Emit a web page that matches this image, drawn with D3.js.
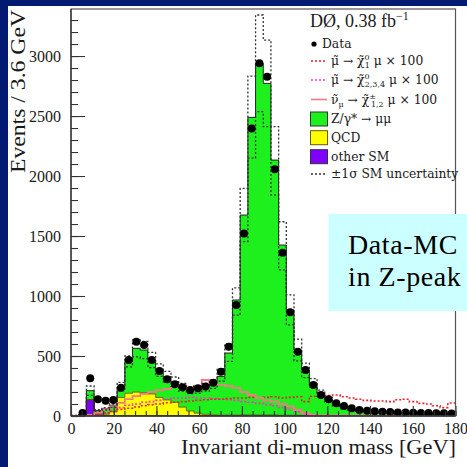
<!DOCTYPE html>
<html><head><meta charset="utf-8">
<script src="https://cdn.jsdelivr.net/npm/d3@7"></script>
<style>
html,body{margin:0;padding:0;background:#021a72;overflow:hidden}
svg{display:block}
</style>
</head><body>
<svg id="chart" width="467" height="467"></svg>
<script>
// Di-muon invariant mass, 3.6 GeV bins from 0 to 180 GeV
const binWidth = 3.6;
const massDomain = [0, 180];
const xTicks = [0, 20, 40, 60, 80, 100, 120, 140, 160, 180];
const yTicks = [0, 500, 1000, 1500, 2000, 2500, 3000];

const dataCounts = [0,25,314,139,128,133,236,467,619,592, 467,375,306,264,239,217,232,245,278,369,
  578,925,1522,2397,2940,2828,2056,1361,865,536, 383,258,175,139,106,83,64,50,44,39,
  36,33,30,30,27,25,24,22,22,20];

const otherSM = [2,5,135,10,5,4,4,4,4,4, 4,4,4,4,4,4,4,4,4,4,
  5,5,6,6,6,6,6,5,5,5, 4,4,4,3,3,3,3,3,3,3, 3,3,3,3,2,2,2,2,2,2];
const qcd = [0,0,0,5,10,30,150,185,195,190, 180,150,130,110,70,38,20,10,5,3,
  2,1,1,0,0,0,0,0,0,0, 0,0,0,0,0,0,0,0,0,0, 0,0,0,0,0,0,0,0,0,0];
const zmumu = [2,5,76,30,45,56,90,266,365,356, 283,229,194,172,166,173,196,226,256,323,
  518,961,1668,2483,2933,2766,2127,1420,878,545, 379,271,186,132,92,67,52,42,35,30,
  27,24,22,20,20,18,17,16,15,14];

// +/- 1 sigma envelope of the SM prediction
const smUp = [5,12,250,52,70,100,280,500,635,622, 530,435,372,325,272,244,250,272,300,395,
  600,1067,1897,2833,3342,3133,2411,1619,1010,640, 440,312,216,153,108,80,62,51,43,37,
  34,31,28,26,25,23,22,20,19,18];
const smDown = [3,8,172,38,50,72,210,410,493,478, 404,331,284,247,208,186,190,208,230,290,
  455,840,1453,2150,2536,2411,1842,1217,760,460, 320,238,164,117,82,60,48,39,33,29,
  26,23,22,20,19,17,16,16,15,14];

// signal expectations, scaled by 100
const smuonChi1 = [0,0,5,15,25,40,55,65,75,85, 95,100,110,115,120,125,130,135,140,140,
  145,150,150,155,150,155,160,150,155,160, 120,165,160,170,175,160,150,140,130,125,
  125,120,135,140,120,105,100,85,70,108];
const smuonChi234 = [0,0,5,20,30,50,70,90,100,115, 120,130,140,150,150,155,150,150,145,140,
  135,130,120,115,105,95,85,70,55,35, 15,5,0,0,0,0,0,0,0,0, 0,0,0,0,0,0,0,0,0,0];
const sneutrinoChi = [3,3,10,30,55,80,110,140,165,185, 200,215,225,240,255,220,250,300,280,260,
  250,235,200,175,150,130,120,100,80,50, 25,10,4,4,4,4,4,4,4,4, 4,4,4,4,4,4,4,4,4,4];

const svg = d3.select("#chart");
const W = 467, H = 467;

// slide panel
svg.append("rect").attr("x", 8).attr("y", 6).attr("width", W - 8).attr("height", H - 6).attr("fill", "#ffffff");

const x = d3.scaleLinear().domain(massDomain).range([71, 455.5]);
const y = d3.scaleLinear().domain([0, 3392]).range([416, 9]);

svg.append("defs").append("clipPath").attr("id", "plotClip")
  .append("rect").attr("x", 71).attr("y", 9).attr("width", 384.5).attr("height", 407);

const plot = svg.append("g").attr("clip-path", "url(#plotClip)");

// step helpers
const steps = vals => vals.map((v, i) => [i * binWidth, v]).concat([[massDomain[1], vals[vals.length - 1]]]);
const stepLine = d3.line().x(d => x(d[0])).y(d => y(d[1])).curve(d3.curveStepAfter);

// stacked SM backgrounds
const rows = dataCounts.map((_, i) => ({ other: otherSM[i], qcd: qcd[i], z: zmumu[i] }));
const stack = d3.stack().keys(["other", "qcd", "z"])(rows);
const fills = { other: "#8000ff", qcd: "#ffff00", z: "#1ef01e" };
const outlines = { other: "#222", qcd: "#6b5a00", z: "#111" };
const stepArea = d3.area().x(d => x(d.m)).y0(d => y(d.lo)).y1(d => y(d.hi)).curve(d3.curveStepAfter);

stack.slice().reverse().forEach(layer => {
  const pts = layer.map((d, i) => ({ m: i * binWidth, lo: d[0], hi: d[1] }));
  pts.push({ m: massDomain[1], lo: layer[layer.length - 1][0], hi: layer[layer.length - 1][1] });
  plot.append("path").attr("d", stepArea(pts)).attr("fill", fills[layer.key]);
});
stack.forEach(layer => {
  const tops = layer.map(d => d[1]);
  plot.append("path").attr("d", stepLine(steps(tops)))
    .attr("fill", "none").attr("stroke", outlines[layer.key]).attr("stroke-width", 0.9);
});

// signals
plot.append("path").attr("d", stepLine(steps(smuonChi234)))
  .attr("fill", "none").attr("stroke", "#ff30d0").attr("stroke-width", 1.6).attr("stroke-dasharray", "2,2");
plot.append("path").attr("d", stepLine(steps(smuonChi1)))
  .attr("fill", "none").attr("stroke", "#e8202a").attr("stroke-width", 1.6).attr("stroke-dasharray", "2,2");
plot.append("path").attr("d", stepLine(steps(sneutrinoChi)))
  .attr("fill", "none").attr("stroke", "#f27a86").attr("stroke-width", 1.8);

// SM uncertainty envelope
[smUp, smDown].forEach(arr => {
  plot.append("path").attr("d", stepLine(steps(arr)))
    .attr("fill", "none").attr("stroke", "#333").attr("stroke-width", 1.3).attr("stroke-dasharray", "2,2");
});

// data points
plot.selectAll("circle.data").data(dataCounts.map((v, i) => ({ m: (i + 0.5) * binWidth, v })).filter(d => d.v > 0))
  .join("circle").attr("class", "data")
  .attr("cx", d => x(d.m)).attr("cy", d => y(d.v)).attr("r", 4).attr("fill", "#000");

// axes
const axisFont = "'Liberation Serif', 'Times New Roman', serif";
const gy = svg.append("g").attr("transform", "translate(71,0)");
gy.call(d3.axisLeft(y).tickValues(d3.range(0, 3392, 100)).tickSize(-7).tickSizeOuter(0).tickFormat(""));
const gy2 = svg.append("g").attr("transform", "translate(71,0)");
gy2.call(d3.axisLeft(y).tickValues(yTicks).tickSize(-14).tickSizeOuter(0).tickPadding(10).tickFormat(d3.format("d")));
gy2.selectAll("text").attr("font-family", axisFont).attr("font-size", 16).attr("fill", "#1a1a1a");
[gy, gy2].forEach(g => { g.select(".domain").remove(); g.selectAll(".tick line").attr("stroke", "#333").attr("stroke-width", 1.1); });

const gx = svg.append("g").attr("transform", "translate(0,416)");
gx.call(d3.axisBottom(x).tickValues(d3.range(0, 181, 5)).tickSize(-5).tickSizeOuter(0).tickFormat(""));
const gx2 = svg.append("g").attr("transform", "translate(0,416)");
gx2.call(d3.axisBottom(x).tickValues(xTicks).tickSize(-10).tickSizeOuter(0).tickPadding(7).tickFormat(d3.format("d")));
gx2.selectAll("text").attr("font-family", axisFont).attr("font-size", 16).attr("fill", "#1a1a1a");
[gx, gx2].forEach(g => { g.select(".domain").remove(); g.selectAll(".tick line").attr("stroke", "#333").attr("stroke-width", 1.1); });

// frame
svg.append("rect").attr("x", 71).attr("y", 9).attr("width", 384.5).attr("height", 407)
  .attr("fill", "none").attr("stroke", "#555").attr("stroke-width", 1.2);
svg.append("line").attr("x1", 71).attr("x2", 71).attr("y1", 9).attr("y2", 416).attr("stroke", "#333").attr("stroke-width", 1.3);
svg.append("line").attr("x1", 71).attr("x2", 455.5).attr("y1", 416).attr("y2", 416).attr("stroke", "#333").attr("stroke-width", 1.3);

// axis titles
svg.append("text").attr("transform", "translate(25,91.5) rotate(-90)")
  .attr("text-anchor", "middle").attr("font-family", axisFont).attr("font-size", 20).attr("fill", "#1a1a1a")
  .attr("textLength", 163).attr("lengthAdjust", "spacingAndGlyphs")
  .text("Events / 3.6 GeV");
svg.append("text").attr("x", 181).attr("y", 454)
  .attr("font-family", axisFont).attr("font-size", 20).attr("fill", "#1a1a1a")
  .attr("textLength", 275).attr("lengthAdjust", "spacingAndGlyphs")
  .text("Invariant di-muon mass [GeV]");

// experiment label
const title = svg.append("text").attr("x", 310).attr("y", 27)
  .attr("font-family", axisFont).attr("font-size", 18).attr("fill", "#1a1a1a");
title.append("tspan").text("DØ, 0.38 fb");
title.append("tspan").attr("dy", -7).attr("font-size", 12).text("−1");

// legend
const lf = "'DejaVu Serif', serif";
const leg = svg.append("g").attr("font-family", lf).attr("font-size", 12.3).attr("fill", "#1a1a1a");
leg.append("circle").attr("cx", 314).attr("cy", 44).attr("r", 2.6).attr("fill", "#000");
leg.append("text").attr("x", 322).attr("y", 48).text("Data");

const lineKeys = [
  { yy: 61, stroke: "#e8202a", dash: "2,2", w: 1.6 },
  { yy: 80, stroke: "#ff30d0", dash: "2,2", w: 1.6 },
  { yy: 99.5, stroke: "#f27a86", dash: null, w: 1.6 }
];
lineKeys.forEach(k => {
  leg.append("line").attr("x1", 311).attr("x2", 327).attr("y1", k.yy).attr("y2", k.yy)
    .attr("stroke", k.stroke).attr("stroke-width", k.w).attr("stroke-dasharray", k.dash);
});

// neutralino / chargino labels with stacked super- and subscripts
function sigLabel(yy, head, sup, sub, tail) {
  const t = leg.append("text").attr("x", 331).attr("y", yy + 4);
  head.forEach(part => {
    const s = t.append("tspan").text(part.text);
    if (part.sub) s.attr("font-size", 8).attr("dy", 3);
    if (part.back) s.attr("dy", -3);
  });
  t.append("tspan").attr("font-size", 8).attr("dy", -5).text(sup);
  t.append("tspan").attr("font-size", 8).attr("dx", -sup.length * 5).attr("dy", 8).text(sub);
  t.append("tspan").attr("dy", -3).text(tail);
}
sigLabel(61, [{ text: "μ̃ → χ̃" }], "0", "1", " μ × 100");
sigLabel(80, [{ text: "μ̃ → χ̃" }], "0", "2,3,4", " μ × 100");
sigLabel(99.5, [{ text: "ν̃" }, { text: "μ", sub: true }, { text: " → χ̃", back: true }], "±", "1,2", " μ × 100");

const boxKeys = [
  { yy: 119, fill: "#1ef01e", stroke: "#333", label: "Z/γ* → μμ" },
  { yy: 137.7, fill: "#ffff00", stroke: "#6b5a00", label: "QCD" },
  { yy: 156.7, fill: "#8000ff", stroke: "#333", label: "other SM" }
];
boxKeys.forEach(k => {
  leg.append("rect").attr("x", 310.5).attr("y", k.yy - 7).attr("width", 17).attr("height", 14)
    .attr("fill", k.fill).attr("stroke", k.stroke).attr("stroke-width", 1);
  leg.append("text").attr("x", 331).attr("y", k.yy + 4).text(k.label);
});
leg.append("line").attr("x1", 311).attr("x2", 327).attr("y1", 174).attr("y2", 174)
  .attr("stroke", "#333").attr("stroke-width", 1.3).attr("stroke-dasharray", "2,2");
leg.append("text").attr("x", 331).attr("y", 178).text("±1σ SM uncertainty");

// annotation box
svg.append("rect").attr("x", 328.5).attr("y", 214).attr("width", 140).attr("height", 97).attr("fill", "#ccffff");
const noteStyle = t => t.attr("font-family", axisFont).attr("font-size", 28).attr("fill", "#000").attr("letter-spacing", 0.6);
noteStyle(svg.append("text").attr("x", 348).attr("y", 254)).text("Data-MC");
noteStyle(svg.append("text").attr("x", 348).attr("y", 286)).text("in Z-peak");
</script>
</body></html>
